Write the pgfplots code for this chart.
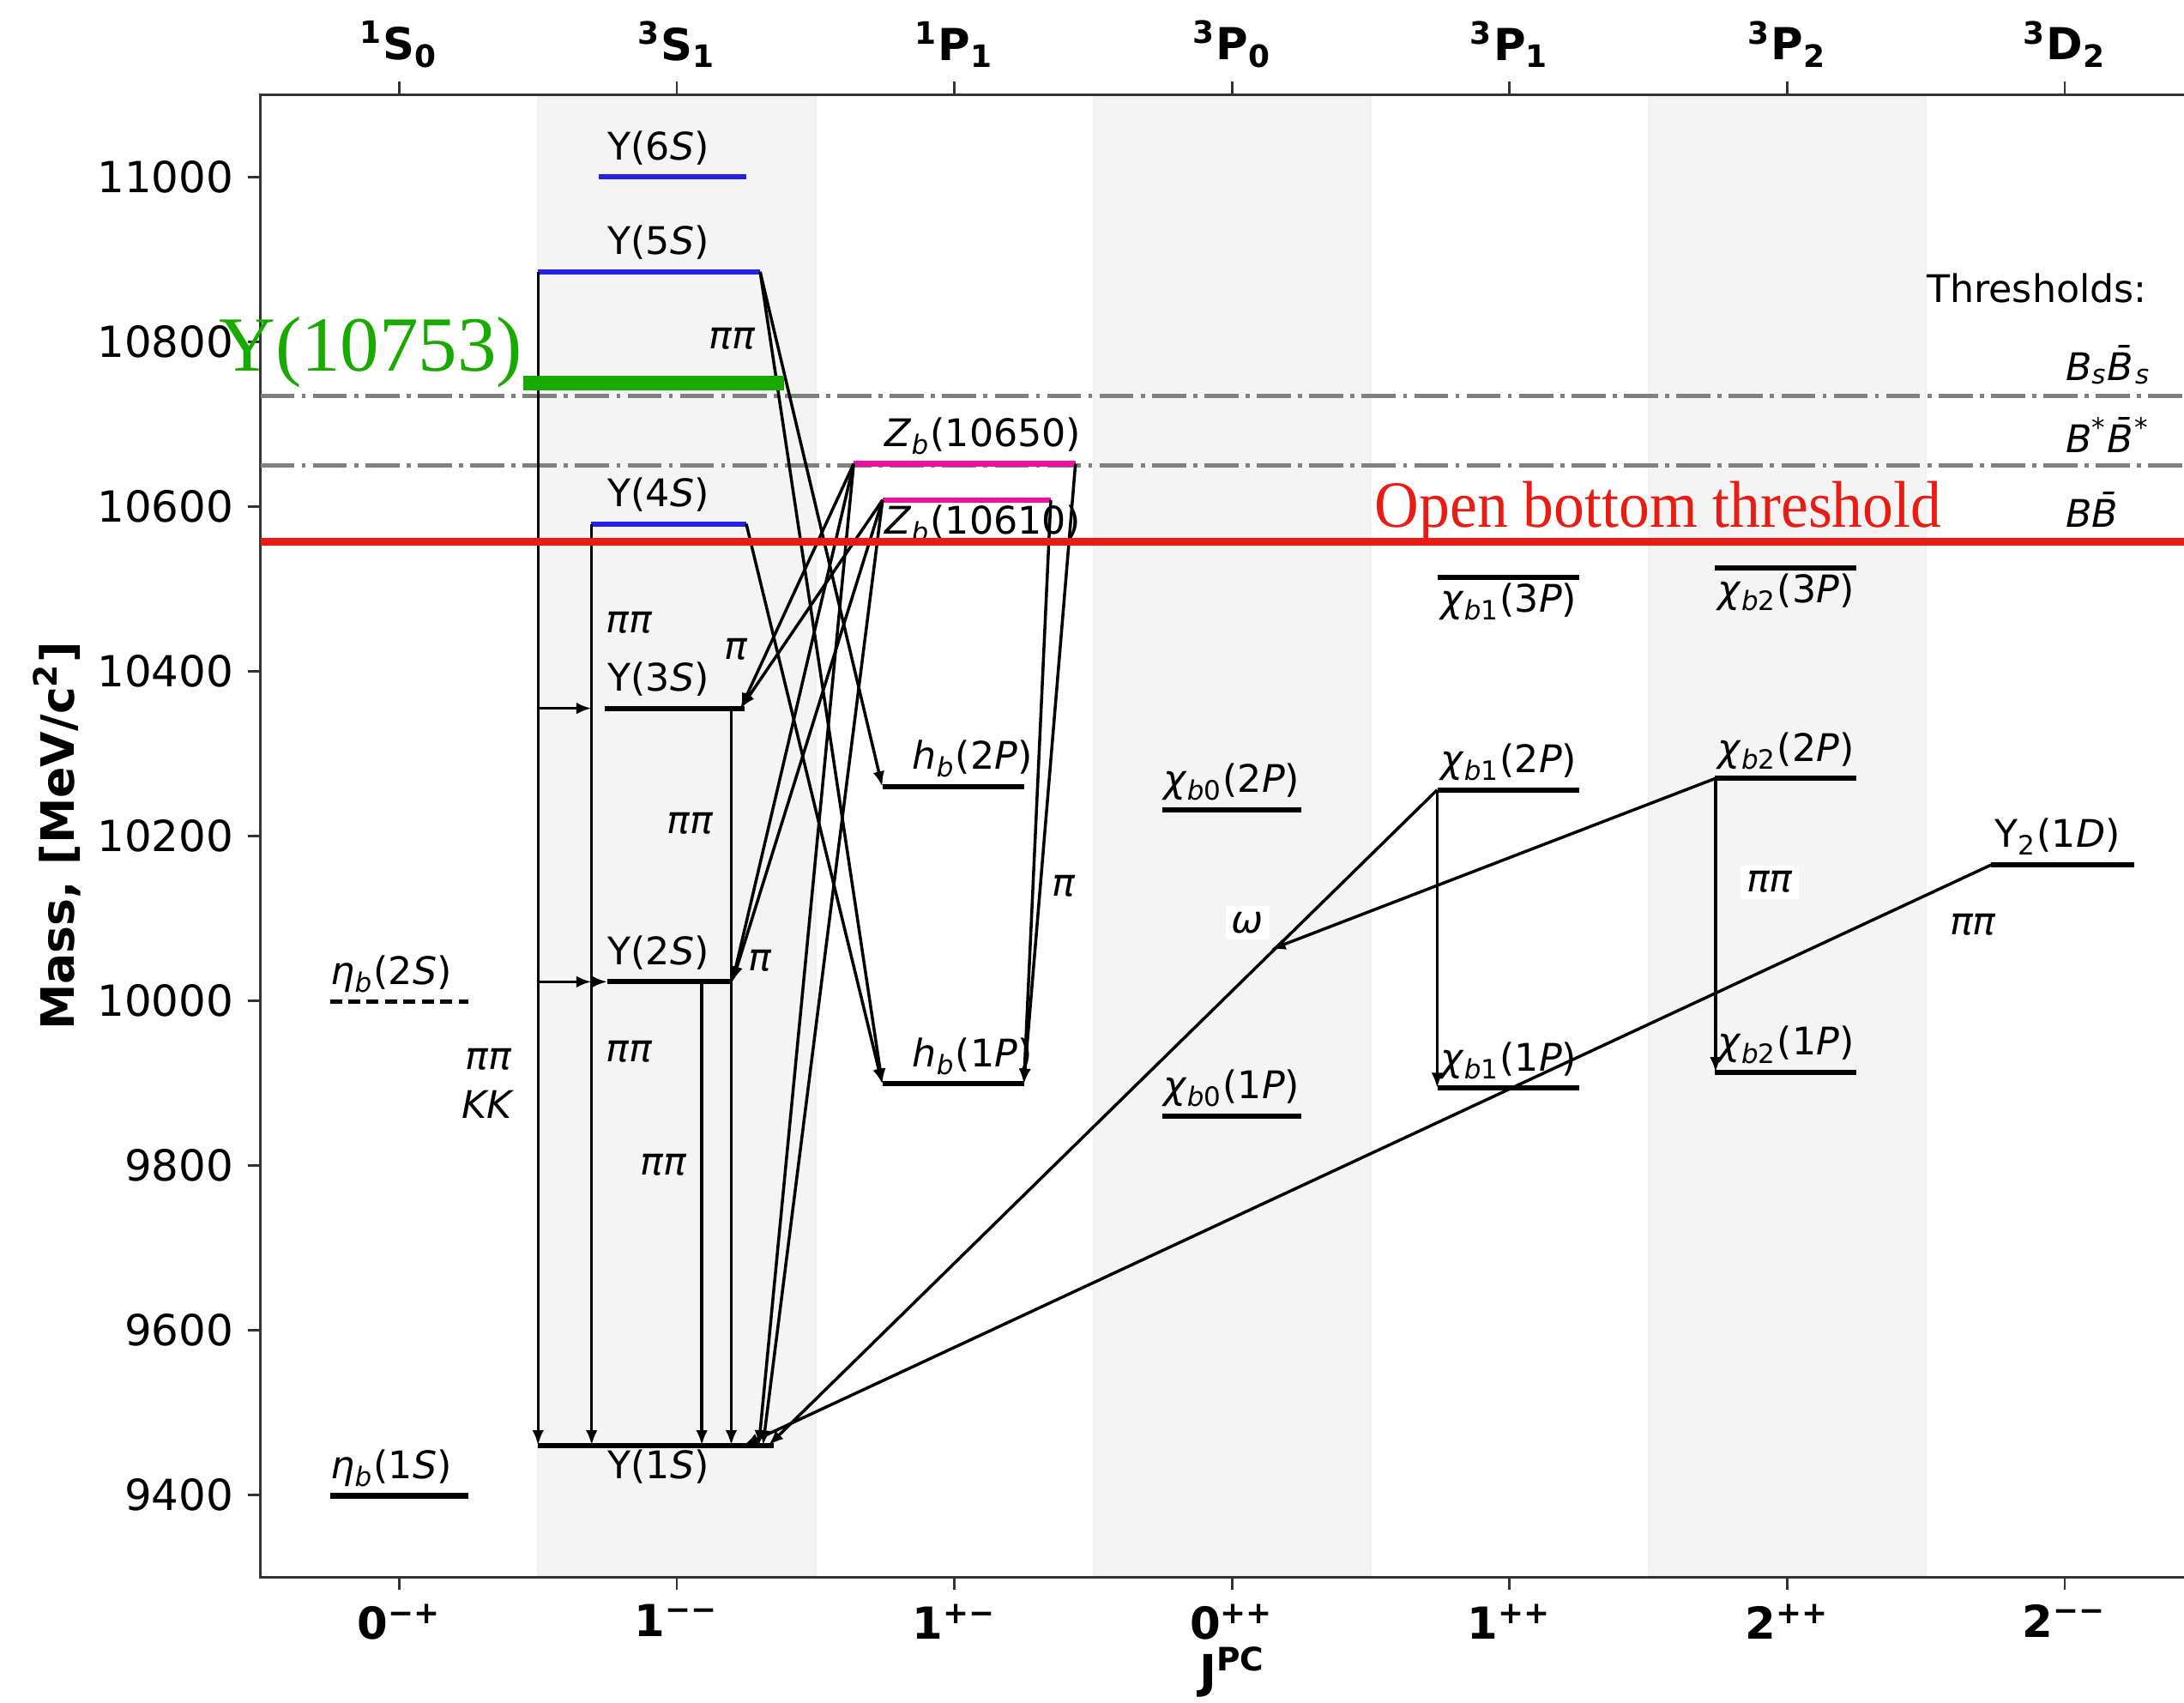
\documentclass[border=0pt]{standalone}
\usepackage{fontspec}
\setmainfont{DejaVu Sans}
\newfontfamily\tnr{Liberation Serif}
\usepackage{pgfplots}
\pgfplotsset{compat=1.18}
\usetikzlibrary{arrows.meta,calc}

\definecolor{band}{RGB}{244,244,244}
\definecolor{lvlblue}{RGB}{35,35,225}
\definecolor{zbpink}{RGB}{235,20,160}
\definecolor{thrgray}{RGB}{128,128,128}
\definecolor{obred}{RGB}{232,28,18}
\definecolor{ygreen}{RGB}{25,170,0}

\newcommand{\lab}{\fontsize{9.5}{11}\selectfont}
\newcommand{\Ups}[1]{Υ(#1\textit{S})}
\newcommand{\lvl}[4]{\addplot[#1] coordinates {(#2,#4) (#3,#4)};}
\newcommand{\arrw}[4]{\addplot[arr] coordinates {(#1,#2) (#3,#4)};}

\begin{document}
\begin{tikzpicture}[
  lv/.style={black, line width=1.3pt},
  arr/.style={black, line width=0.75pt, -{Latex[length=3.8pt,width=2.9pt]}},
  lb/.style={font=\lab, inner sep=0pt, anchor=base west},
  tl/.style={font=\lab, inner sep=0pt, anchor=center},
]
\begin{axis}[
  name=ax, at={(0,0)}, anchor=south west,
  scale only axis, width=485.4pt, height=370.3pt,
  xmin=-0.5, xmax=6.5, ymin=9300, ymax=11100,
  clip=false,
  axis line style={line width=0.75pt, black!80},
  tick align=outside, major tick length=3.2pt,
  every tick/.style={black!80, line width=0.6pt},
  xtick={0,1,2,3,4,5,6}, xtick pos=bottom,
  xticklabels={0\textsuperscript{−+}, 1\textsuperscript{−−}, 1\textsuperscript{+−}, 0\textsuperscript{++}, 1\textsuperscript{++}, 2\textsuperscript{++}, 2\textsuperscript{−−}},
  xticklabel style={font=\fontsize{11}{13}\selectfont\bfseries},
  ytick={9400,9600,...,11000}, ytick pos=left,
  scaled y ticks=false,
  yticklabel style={font=\fontsize{10.7}{12}\selectfont},
  /pgf/number format/assume math mode=true,
  /pgf/number format/1000 sep={},
  xlabel={J\textsuperscript{PC}},
  ylabel={Mass, [MeV/c\textsuperscript{2}]},
  every axis x label/.style={at={(axis description cs:0.5003,-0.064)}, anchor=center, font=\fontsize{11.5}{13}\selectfont\bfseries},
  every axis y label/.style={at={(axis description cs:-0.1047,0.5)}, rotate=90, anchor=center, font=\fontsize{11.5}{13}\selectfont\bfseries},
]
% bands
\addplot[fill=band, draw=black!6, line width=0.4pt] coordinates {(0.5,9302) (1.5,9302) (1.5,11098) (0.5,11098) (0.5,9302)};
\addplot[fill=band, draw=black!6, line width=0.4pt] coordinates {(2.5,9302) (3.5,9302) (3.5,11098) (2.5,11098) (2.5,9302)};
\addplot[fill=band, draw=black!6, line width=0.4pt] coordinates {(4.5,9302) (5.5,9302) (5.5,11098) (4.5,11098) (4.5,9302)};
% thresholds
\addplot[thrgray, line width=1pt, dash pattern=on 8.5pt off 1.8pt on 1pt off 1.8pt] coordinates {(-0.5,10734) (6.5,10734)};
\addplot[thrgray, line width=1pt, dash pattern=on 8.5pt off 1.8pt on 1pt off 1.8pt] coordinates {(-0.5,10650) (6.5,10650)};
\addplot[thrgray, line width=1pt, dash pattern=on 8.5pt off 1.8pt on 1pt off 1.8pt] coordinates {(-0.5,10559) (6.5,10559)};
% levels
\lvl{black, line width=1.5pt}{-0.25}{0.25}{9399}
\lvl{black, line width=1.2pt, dash pattern=on 3pt off 1.6pt}{-0.25}{0.25}{9999}
\lvl{lv}{0.5}{1.35}{9460}
\lvl{lv}{0.75}{1.2}{10023}
\lvl{lv}{0.74}{1.245}{10355}
\lvl{lvlblue, line width=1.3pt}{0.69}{1.25}{10579}
\lvl{lvlblue, line width=1.3pt}{0.5}{1.3}{10885}
\lvl{lvlblue, line width=1.3pt}{0.72}{1.25}{11000}
\lvl{zbpink, line width=1.3pt}{1.637}{2.436}{10652}
\lvl{zbpink, line width=1.3pt}{1.741}{2.347}{10608}
\lvl{lv}{1.74}{2.25}{9899}
\lvl{lv}{1.74}{2.25}{10260}
\lvl{lv}{2.75}{3.25}{9860}
\lvl{lv}{2.75}{3.25}{10232}
\lvl{lv}{3.74}{4.25}{9894}
\lvl{lv}{3.74}{4.25}{10256}
\lvl{lv}{3.74}{4.25}{10514}
\lvl{lv}{4.74}{5.25}{9913}
\lvl{lv}{4.74}{5.25}{10270}
\lvl{lv}{4.74}{5.25}{10525}
\lvl{lv}{5.735}{6.25}{10165}
% transitions
\arrw{0.5}{10885}{0.5}{9460}
\arrw{0.5}{10355}{0.693}{10355}
\arrw{0.5}{10023}{0.693}{10023}
\arrw{0.693}{10023}{0.75}{10023}
\arrw{0.693}{10579}{0.693}{9460}
\arrw{1.09}{10023}{1.09}{9460}
\arrw{1.196}{10355}{1.196}{9460}
\arrw{1.30}{10885}{1.74}{10260}
\arrw{1.30}{10885}{1.74}{9899}
\arrw{1.25}{10579}{1.74}{9899}
\arrw{1.637}{10652}{1.23}{10355}
\arrw{1.741}{10608}{1.23}{10355}
\arrw{1.637}{10652}{1.2}{10023}
\arrw{1.741}{10608}{1.2}{10023}
\arrw{1.637}{10652}{1.295}{9460}
\arrw{1.741}{10608}{1.31}{9460}
\arrw{2.436}{10652}{2.25}{9899}
\arrw{2.347}{10608}{2.25}{9899}
\arrw{3.739}{10256}{1.33}{9460}
\arrw{4.742}{10270}{3.138}{10062}
\arrw{5.735}{10165}{1.24}{9460}
\arrw{3.739}{10256}{3.739}{9894}
\arrw{4.742}{10270}{4.742}{9913}
% level labels
\node[lb, yshift=4.3pt] at (0.748,11000) {\Ups{6}};
\node[lb, yshift=4.3pt] at (0.748,10885) {\Ups{5}};
\node[lb, yshift=4.3pt] at (0.748,10579) {\Ups{4}};
\node[lb, yshift=4.3pt] at (0.748,10355) {\Ups{3}};
\node[lb, yshift=4.3pt] at (0.748,10023) {\Ups{2}};
\node[lb, yshift=-8.2pt] at (0.748,9460) {\Ups{1}};
\node[lb, yshift=4.3pt] at (-0.25,9999) {\textit{η}\textsubscript{\textit{b}}(2\textit{S})};
\node[lb, yshift=4.3pt] at (-0.25,9399) {\textit{η}\textsubscript{\textit{b}}(1\textit{S})};
\node[lb, yshift=4.3pt] at (1.746,10652) {\textit{Z}\textsubscript{\textit{b}}(10650)};
\node[lb, yshift=-8.6pt] at (1.746,10608) {\textit{Z}\textsubscript{\textit{b}}(10610)};
\node[lb, yshift=4.3pt] at (1.846,10260) {\textit{h}\textsubscript{\textit{b}}(2\textit{P})};
\node[lb, yshift=4.3pt] at (1.846,9899) {\textit{h}\textsubscript{\textit{b}}(1\textit{P})};
\node[lb, yshift=4.3pt] at (2.75,10232) {\textit{χ}\textsubscript{\textit{b}0}(2\textit{P})};
\node[lb, yshift=4.3pt] at (2.75,9860) {\textit{χ}\textsubscript{\textit{b}0}(1\textit{P})};
\node[lb, yshift=-8.6pt] at (3.748,10514) {\textit{χ}\textsubscript{\textit{b}1}(3\textit{P})};
\node[lb, yshift=4.3pt] at (3.748,10256) {\textit{χ}\textsubscript{\textit{b}1}(2\textit{P})};
\node[lb, yshift=4.3pt] at (3.748,9894) {\textit{χ}\textsubscript{\textit{b}1}(1\textit{P})};
\node[lb, yshift=-8.6pt] at (4.747,10525) {\textit{χ}\textsubscript{\textit{b}2}(3\textit{P})};
\node[lb, yshift=4.3pt] at (4.747,10270) {\textit{χ}\textsubscript{\textit{b}2}(2\textit{P})};
\node[lb, yshift=4.3pt] at (4.747,9913) {\textit{χ}\textsubscript{\textit{b}2}(1\textit{P})};
\node[lb, yshift=4.3pt] at (5.745,10165) {Υ\textsubscript{2}(1\textit{D})};
% transition labels
\node[tl] at (1.2,10804) {\textit{ππ}};
\node[tl] at (0.828,10459) {\textit{ππ}};
\node[tl] at (1.214,10427) {\textit{π}};
\node[tl] at (1.049,10215) {\textit{ππ}};
\node[tl] at (1.30,10049) {\textit{π}};
\node[tl] at (0.828,9938) {\textit{ππ}};
\node[tl] at (0.953,9801) {\textit{ππ}};
\node[tl] at (0.321,9929) {\textit{ππ}};
\node[tl] at (0.321,9874) {\textit{KK}};
\node[tl] at (2.393,10139) {\textit{π}};
\node[tl, fill=white, inner sep=1.5pt] at (3.056,10095) {\textit{ω}};
\node[tl, fill=white, inner sep=1.5pt] at (4.937,10144) {\textit{ππ}};
\node[tl] at (5.67,10092) {\textit{ππ}};
% thresholds text
\node[font=\lab, inner sep=0pt, anchor=west] at (5.5,10865) {Thresholds:};
\node[font=\lab, inner sep=0pt, anchor=west] at (6.0,10772) {\textit{B}\textsubscript{\textit{s}}\textit{\={B}}\textsubscript{\textit{s}}};
\node[font=\lab, inner sep=0pt, anchor=west] at (6.0,10687) {\textit{B}\textsuperscript{*}\textit{\={B}}\textsuperscript{*}};
\node[font=\lab, inner sep=0pt, anchor=west] at (6.0,10596) {\textit{B\={B}}};
% overlays
\addplot[obred, line width=1.9pt] coordinates {(-0.5,10557) (6.5,10557)};
\node[inner sep=0pt, anchor=base west, text=obred, font=\tnr\fontsize{16.5}{18}\selectfont, xscale=0.93] at (3.512,10575) {Open bottom threshold};
\addplot[ygreen, line width=3.8pt] coordinates {(0.448,10750) (1.387,10750)};
\node[inner sep=0pt, anchor=base west, text=ygreen, font=\tnr\fontsize{19.5}{21}\selectfont] at (-0.652,10765) {Υ(10753)};
\end{axis}
\begin{axis}[
  at={(ax.south west)}, anchor=south west,
  scale only axis, width=485.4pt, height=370.3pt,
  xmin=-0.5, xmax=6.5, ymin=9300, ymax=11100,
  axis x line*=top, axis y line=none,
  x axis line style={-, line width=0.75pt, black!80},
  tick align=outside, major tick length=3.2pt,
  every tick/.style={black!80, line width=0.6pt},
  xtick={0,1,2,3,4,5,6},
  xticklabels={\textsuperscript{1}S\textsubscript{0}, \textsuperscript{3}S\textsubscript{1}, \textsuperscript{1}P\textsubscript{1}, \textsuperscript{3}P\textsubscript{0}, \textsuperscript{3}P\textsubscript{1}, \textsuperscript{3}P\textsubscript{2}, \textsuperscript{3}D\textsubscript{2}},
  xticklabel style={font=\fontsize{11}{13}\selectfont\bfseries},
]
\end{axis}
\pgfresetboundingbox
\path[use as bounding box] ($(ax.south west)+(-65.07pt,-31.23pt)$) rectangle ($(ax.north east)+(-4.9pt,23.66pt)$);
\end{tikzpicture}
\end{document}
